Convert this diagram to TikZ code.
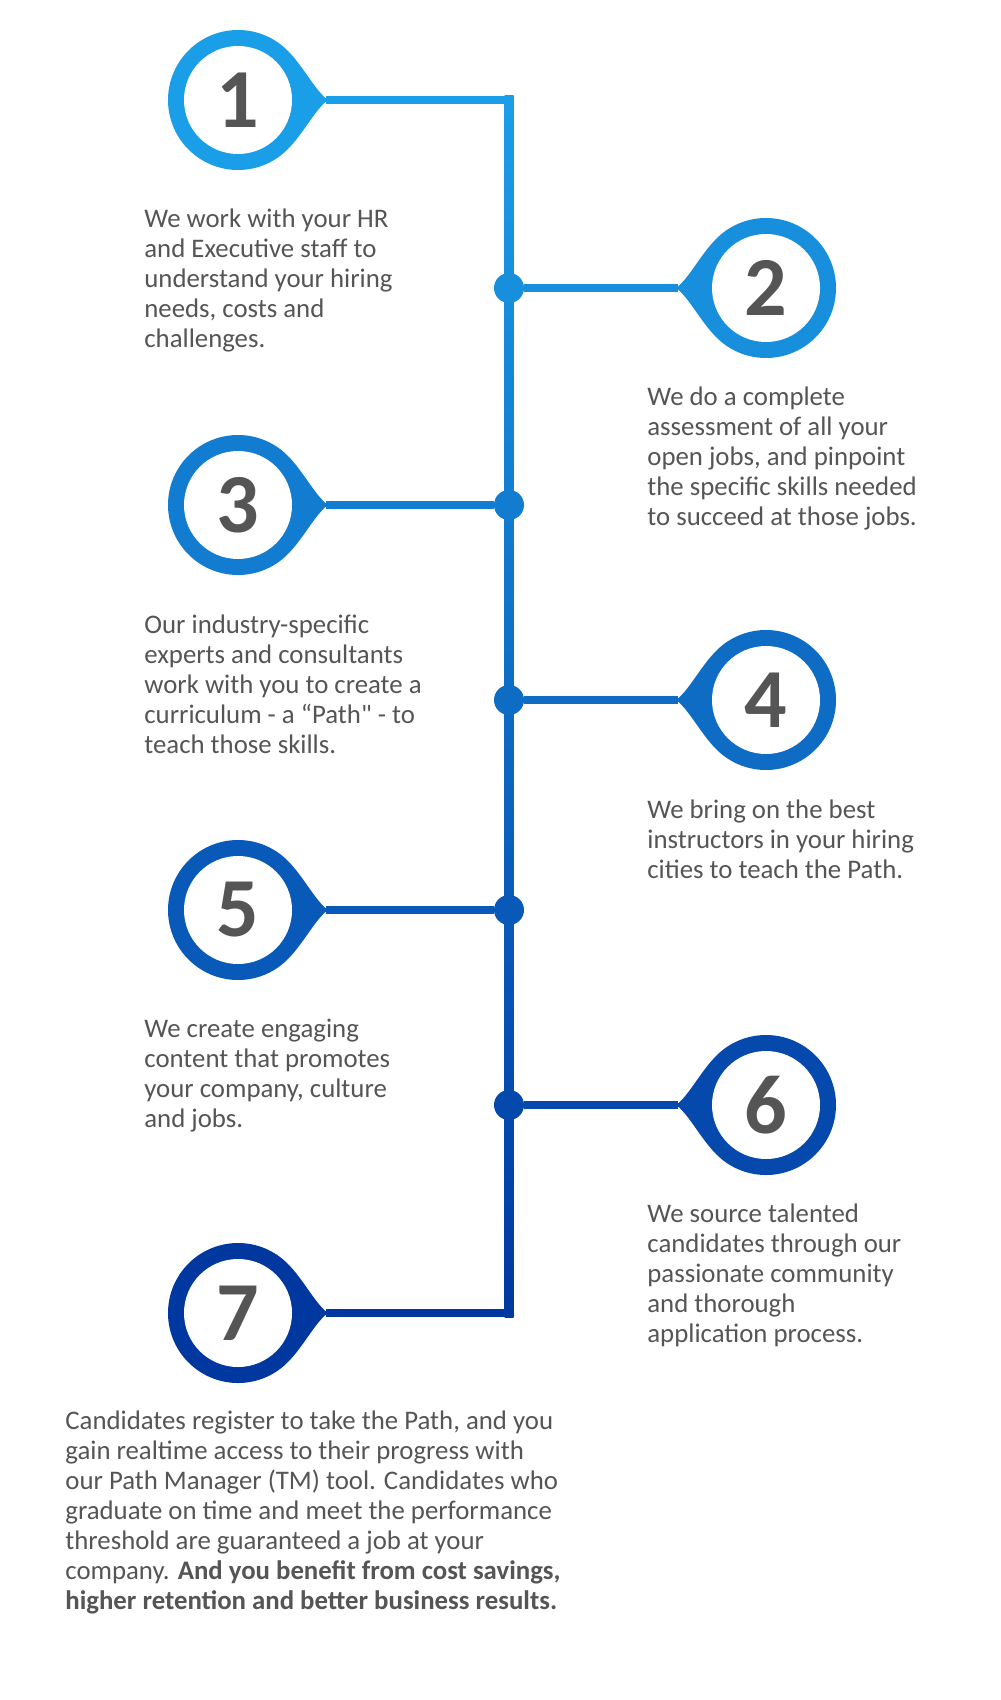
\documentclass[tikz,border=0pt]{standalone}
\usepackage{fontspec}
\setmainfont{Carlito}[Ligatures=TeXOff]
\definecolor{pinTop}{RGB}{27,158,232}
\definecolor{pinBot}{RGB}{0,56,160}
\definecolor{txt}{RGB}{85,85,85}
\colorlet{c1}{pinTop}
\colorlet{c2}{pinBot!15!pinTop}
\colorlet{c3}{pinBot!33!pinTop}
\colorlet{c4}{pinBot!49!pinTop}
\colorlet{c5}{pinBot!67!pinTop}
\colorlet{c6}{pinBot!83!pinTop}
\colorlet{c7}{pinBot}
\begin{document}
\begin{tikzpicture}[x=0.5pt, y=-0.5pt,
		pin/.pic={
			\path[pic actions] (45pt,0pt) .. controls (38pt,5pt) and (31.7pt,19.1pt) .. (50:35pt)
				arc[start angle=50, end angle=310, radius=35pt]
				.. controls (31.7pt,-19.1pt) and (38pt,-5pt) .. cycle;
			\fill[white] (0,0) circle[radius=27pt];
		},
		num/.style={text=txt, font=\fontsize{42}{42}\selectfont\bfseries},
		info/.style={text=txt, anchor=base west, align=left, inner sep=0pt, font=\fontsize{13.4}{15}\selectfont},
		dot/.style={circle, inner sep=0pt, minimum size=15pt},
		branch/.style={line width=4pt}]
	\useasboundingbox[fill=white] (0,0) rectangle (1000,1700);
	% spine
	\shade[top color=c1, bottom color=c7] (504.5,96) rectangle (513.5,1317);
	\coordinate (top) at (513.5,100);
	\coordinate (bot) at (513.5,1313);
	\node[dot, fill=c2] (d2) at (509,288) {};
	\node[dot, fill=c3] (d3) at (509,505) {};
	\node[dot, fill=c4] (d4) at (509,700) {};
	\node[dot, fill=c5] (d5) at (509,910) {};
	\node[dot, fill=c6] (d6) at (509,1105) {};
	% pins
	\pic[fill=c1] at (238,100) {pin};
	\pic[fill=c2, rotate=180] at (766,288) {pin};
	\pic[fill=c3] at (238,505) {pin};
	\pic[fill=c4, rotate=180] at (766,700) {pin};
	\pic[fill=c5] at (238,910) {pin};
	\pic[fill=c6, rotate=180] at (766,1105) {pin};
	\pic[fill=c7] at (238,1313) {pin};
	\coordinate (p1) at (326,100);
	\coordinate (p2) at (678,288);
	\coordinate (p3) at (326,505);
	\coordinate (p4) at (678,700);
	\coordinate (p5) at (326,910);
	\coordinate (p6) at (678,1105);
	\coordinate (p7) at (326,1313);
	\draw[branch, c1] (p1) -- (top);
	\draw[branch, c2] (d2) -- (p2);
	\draw[branch, c3] (d3) -- (p3);
	\draw[branch, c4] (d4) -- (p4);
	\draw[branch, c5] (d5) -- (p5);
	\draw[branch, c6] (d6) -- (p6);
	\draw[branch, c7] (p7) -- (bot);
	% numbers
	\node[num] (n1) at (238,100) {1};
	\node[num] (n2) at (766,288) {2};
	\node[num] (n3) at (238,505) {3};
	\node[num] (n4) at (766,700) {4};
	\node[num] (n5) at (238,910) {5};
	\node[num] (n6) at (766,1105) {6};
	\node[num] (n7) at (238,1313) {7};
	% texts (anchored at the last line)
	\node[info] (t1) at (144,348) {We work with your HR\\and Executive staff to\\understand your hiring\\needs, costs and\\challenges.};
	\node[info] (t2) at (647,525) {We do a complete\\assessment of all your\\open jobs, and pinpoint\\the specific skills needed\\to succeed at those jobs.};
	\node[info] (t3) at (144,753) {Our industry-specific\\experts and consultants\\work with you to create a\\curriculum - a “Path" - to\\teach those skills.};
	\node[info] (t4) at (647,878) {We bring on the best\\instructors in your hiring\\cities to teach the Path.};
	\node[info] (t5) at (144,1127) {We create engaging\\content that promotes\\your company, culture\\and jobs.};
	\node[info] (t6) at (647,1342) {We source talented\\candidates through our\\passionate community\\and thorough\\application process.};
	\node[info] (t7) at (65,1609) {Candidates register to take the Path, and you\\gain realtime access to their progress with\\our Path Manager (TM) tool. Candidates who\\graduate on time and meet the performance\\threshold are guaranteed a job at your\\company. \textbf{And you benefit from cost savings,}\\\textbf{higher retention and better business results.}};
\end{tikzpicture}
\end{document}
